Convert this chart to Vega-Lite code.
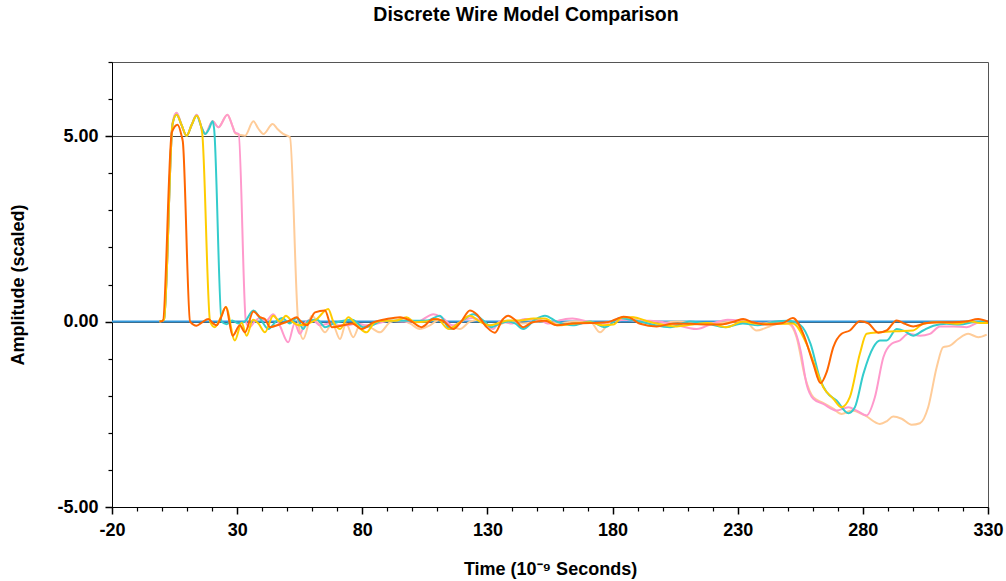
{
"$schema":"https://vega.github.io/schema/vega-lite/v6.json",
"width":876,"height":445,"autosize":"none",
"padding":{"left":112,"top":62,"right":18,"bottom":74},
"background":"white",
"title":{"text":"Discrete Wire Model Comparison","font":"Liberation Sans","fontSize":19.5,"fontWeight":"bold","color":"black","anchor":"middle","dx":-24,"offset":36},
"config":{"view":{"stroke":"#555","strokeWidth":1},"font":"Liberation Sans","axis":{"ticks":true,"tickColor":"black","tickOpacity":1}},
"data":{"values":[
{"s":"s0","x":-20,"y":0},{"s":"s0","x":330,"y":0},
{"s":"s1","x":-1,"y":0},{"s":"s1","x":0.8,"y":0.05},{"s":"s1","x":4.2,"y":5.35},{"s":"s1","x":5.8,"y":5.63},{"s":"s1","x":7.8,"y":5.3},{"s":"s1","x":9.8,"y":5.01},{"s":"s1","x":11.8,"y":5.3},{"s":"s1","x":13.8,"y":5.58},{"s":"s1","x":16,"y":5.2},{"s":"s1","x":17.2,"y":5.06},{"s":"s1","x":20.2,"y":5.4},{"s":"s1","x":22.5,"y":5.24},{"s":"s1","x":26.1,"y":5.58},{"s":"s1","x":28,"y":5.3},{"s":"s1","x":29.5,"y":5.06},{"s":"s1","x":31.5,"y":5.03},{"s":"s1","x":33.1,"y":5.01},{"s":"s1","x":36.5,"y":5.4},{"s":"s1","x":38.5,"y":5.2},{"s":"s1","x":40.5,"y":5.06},{"s":"s1","x":44.2,"y":5.33},{"s":"s1","x":46,"y":5.2},{"s":"s1","x":48.4,"y":5.06},{"s":"s1","x":51.1,"y":4.97},{"s":"s1","x":54.4,"y":0},{"s":"s1","x":56.4,"y":-0.47},{"s":"s1","x":59.8,"y":0.16},{"s":"s1","x":62.5,"y":-0.05},{"s":"s1","x":65.1,"y":-0.29},{"s":"s1","x":68,"y":-0.05},{"s":"s1","x":71.1,"y":-0.47},{"s":"s1","x":73.5,"y":-0.05},{"s":"s1","x":76.4,"y":-0.42},{"s":"s1","x":79,"y":-0.1},{"s":"s1","x":83,"y":-0.15},{"s":"s1","x":87.1,"y":-0.29},{"s":"s1","x":91,"y":-0.02},{"s":"s1","x":95,"y":0.05},{"s":"s1","x":99,"y":-0.05},{"s":"s1","x":103,"y":-0.2},{"s":"s1","x":107,"y":-0.1},{"s":"s1","x":111,"y":0.05},{"s":"s1","x":115,"y":-0.1},{"s":"s1","x":119,"y":-0.2},{"s":"s1","x":123,"y":0},{"s":"s1","x":127,"y":0.05},{"s":"s1","x":131,"y":-0.1},{"s":"s1","x":134,"y":-0.1},{"s":"s1","x":138,"y":0},{"s":"s1","x":144,"y":-0.05},{"s":"s1","x":151,"y":0},{"s":"s1","x":158,"y":-0.05},{"s":"s1","x":165,"y":0},{"s":"s1","x":171,"y":0},{"s":"s1","x":175,"y":-0.29},{"s":"s1","x":179,"y":0},{"s":"s1","x":184,"y":0.1},{"s":"s1","x":188,"y":0.12},{"s":"s1","x":191,"y":0},{"s":"s1","x":198,"y":-0.05},{"s":"s1","x":206,"y":0},{"s":"s1","x":215,"y":-0.05},{"s":"s1","x":222,"y":-0.03},{"s":"s1","x":229,"y":0},{"s":"s1","x":233,"y":0},{"s":"s1","x":237.5,"y":-0.24},{"s":"s1","x":242,"y":-0.15},{"s":"s1","x":246,"y":-0.05},{"s":"s1","x":250.2,"y":-0.06},{"s":"s1","x":253.5,"y":-0.42},{"s":"s1","x":256.9,"y":-1.5},{"s":"s1","x":260.2,"y":-2.04},{"s":"s1","x":263.5,"y":-2.17},{"s":"s1","x":268.2,"y":-2.35},{"s":"s1","x":271.5,"y":-2.49},{"s":"s1","x":275.5,"y":-2.4},{"s":"s1","x":280.8,"y":-2.53},{"s":"s1","x":286.8,"y":-2.76},{"s":"s1","x":289.5,"y":-2.69},{"s":"s1","x":292.1,"y":-2.56},{"s":"s1","x":295.5,"y":-2.62},{"s":"s1","x":299.5,"y":-2.78},{"s":"s1","x":302.8,"y":-2.74},{"s":"s1","x":306.1,"y":-2.31},{"s":"s1","x":309.5,"y":-1.23},{"s":"s1","x":312.1,"y":-0.69},{"s":"s1","x":314.8,"y":-0.65},{"s":"s1","x":318.1,"y":-0.47},{"s":"s1","x":322.1,"y":-0.33},{"s":"s1","x":326.1,"y":-0.42},{"s":"s1","x":329.5,"y":-0.35},
{"s":"s2","x":-1,"y":0},{"s":"s2","x":0.8,"y":0.05},{"s":"s2","x":4.2,"y":5.35},{"s":"s2","x":5.8,"y":5.63},{"s":"s2","x":7.8,"y":5.3},{"s":"s2","x":9.8,"y":5.01},{"s":"s2","x":11.8,"y":5.3},{"s":"s2","x":13.8,"y":5.58},{"s":"s2","x":16,"y":5.2},{"s":"s2","x":17.2,"y":5.06},{"s":"s2","x":20.2,"y":5.4},{"s":"s2","x":22.5,"y":5.24},{"s":"s2","x":26.1,"y":5.58},{"s":"s2","x":28,"y":5.3},{"s":"s2","x":29.1,"y":5.1},{"s":"s2","x":30.6,"y":5.06},{"s":"s2","x":33.5,"y":0},{"s":"s2","x":35,"y":-0.15},{"s":"s2","x":37,"y":0},{"s":"s2","x":39,"y":0.1},{"s":"s2","x":41.5,"y":0.02},{"s":"s2","x":44.4,"y":0.2},{"s":"s2","x":47,"y":-0.1},{"s":"s2","x":50.4,"y":-0.56},{"s":"s2","x":53,"y":-0.05},{"s":"s2","x":55.1,"y":-0.33},{"s":"s2","x":57.5,"y":0},{"s":"s2","x":60,"y":0.05},{"s":"s2","x":63.1,"y":-0.1},{"s":"s2","x":67,"y":-0.05},{"s":"s2","x":70,"y":-0.1},{"s":"s2","x":74,"y":-0.1},{"s":"s2","x":78,"y":-0.05},{"s":"s2","x":81.7,"y":-0.1},{"s":"s2","x":86,"y":-0.05},{"s":"s2","x":91,"y":0.02},{"s":"s2","x":97,"y":0},{"s":"s2","x":102,"y":0},{"s":"s2","x":108.4,"y":0.2},{"s":"s2","x":112,"y":0.1},{"s":"s2","x":116,"y":-0.1},{"s":"s2","x":121,"y":0.05},{"s":"s2","x":124,"y":0.1},{"s":"s2","x":128,"y":0},{"s":"s2","x":132.3,"y":-0.2},{"s":"s2","x":135,"y":0},{"s":"s2","x":140,"y":-0.05},{"s":"s2","x":145,"y":0.07},{"s":"s2","x":151,"y":0.05},{"s":"s2","x":154,"y":-0.05},{"s":"s2","x":160,"y":0.05},{"s":"s2","x":164,"y":0.08},{"s":"s2","x":170,"y":0},{"s":"s2","x":175,"y":-0.05},{"s":"s2","x":180,"y":0},{"s":"s2","x":185,"y":0.05},{"s":"s2","x":190,"y":0.02},{"s":"s2","x":195,"y":0.02},{"s":"s2","x":203,"y":-0.05},{"s":"s2","x":213.6,"y":-0.2},{"s":"s2","x":220,"y":-0.05},{"s":"s2","x":226,"y":0.05},{"s":"s2","x":233,"y":0},{"s":"s2","x":240,"y":-0.05},{"s":"s2","x":245,"y":0},{"s":"s2","x":250.9,"y":-0.06},{"s":"s2","x":255.1,"y":-0.78},{"s":"s2","x":257.5,"y":-1.68},{"s":"s2","x":260.2,"y":-2.08},{"s":"s2","x":264.2,"y":-2.22},{"s":"s2","x":269.5,"y":-2.4},{"s":"s2","x":274.2,"y":-2.31},{"s":"s2","x":277.5,"y":-2.4},{"s":"s2","x":281.5,"y":-2.53},{"s":"s2","x":284.8,"y":-2.04},{"s":"s2","x":288.2,"y":-0.96},{"s":"s2","x":291.5,"y":-0.6},{"s":"s2","x":294.8,"y":-0.51},{"s":"s2","x":298.2,"y":-0.33},{"s":"s2","x":302.8,"y":-0.38},{"s":"s2","x":306.8,"y":-0.33},{"s":"s2","x":310.8,"y":-0.13},{"s":"s2","x":316.1,"y":-0.13},{"s":"s2","x":321.5,"y":-0.15},{"s":"s2","x":326.8,"y":-0.02},{"s":"s2","x":330,"y":-0.02},
{"s":"s3","x":-1,"y":0},{"s":"s3","x":0.8,"y":0.05},{"s":"s3","x":4.2,"y":5.33},{"s":"s3","x":5.8,"y":5.58},{"s":"s3","x":7.8,"y":5.3},{"s":"s3","x":9.8,"y":5.01},{"s":"s3","x":11.8,"y":5.3},{"s":"s3","x":13.8,"y":5.55},{"s":"s3","x":16,"y":5.2},{"s":"s3","x":17.2,"y":5.06},{"s":"s3","x":18.8,"y":5.2},{"s":"s3","x":20.2,"y":5.4},{"s":"s3","x":20.8,"y":5.2},{"s":"s3","x":23.8,"y":0},{"s":"s3","x":25.8,"y":-0.07},{"s":"s3","x":28,"y":0.03},{"s":"s3","x":30.5,"y":-0.05},{"s":"s3","x":33,"y":0},{"s":"s3","x":36.5,"y":0.3},{"s":"s3","x":39.5,"y":0.05},{"s":"s3","x":42.5,"y":-0.2},{"s":"s3","x":45.5,"y":0},{"s":"s3","x":48,"y":0.1},{"s":"s3","x":51,"y":-0.05},{"s":"s3","x":53.8,"y":0.1},{"s":"s3","x":56.4,"y":-0.2},{"s":"s3","x":58.4,"y":0.02},{"s":"s3","x":62,"y":0.05},{"s":"s3","x":65.1,"y":-0.15},{"s":"s3","x":68.5,"y":-0.05},{"s":"s3","x":72.4,"y":0.02},{"s":"s3","x":76,"y":0.05},{"s":"s3","x":80.4,"y":-0.15},{"s":"s3","x":84,"y":-0.1},{"s":"s3","x":88,"y":0.02},{"s":"s3","x":95,"y":0.02},{"s":"s3","x":101,"y":0.02},{"s":"s3","x":106,"y":0.03},{"s":"s3","x":111,"y":0.16},{"s":"s3","x":115,"y":-0.2},{"s":"s3","x":119.5,"y":0},{"s":"s3","x":124.4,"y":0.2},{"s":"s3","x":128,"y":0.05},{"s":"s3","x":131.7,"y":-0.15},{"s":"s3","x":135,"y":-0.05},{"s":"s3","x":138.5,"y":0},{"s":"s3","x":141,"y":-0.05},{"s":"s3","x":144.3,"y":-0.2},{"s":"s3","x":149,"y":0.05},{"s":"s3","x":153,"y":0.16},{"s":"s3","x":157.7,"y":0},{"s":"s3","x":164,"y":-0.1},{"s":"s3","x":171,"y":0},{"s":"s3","x":177,"y":-0.15},{"s":"s3","x":183,"y":0.1},{"s":"s3","x":187,"y":0.05},{"s":"s3","x":191,"y":0},{"s":"s3","x":197,"y":-0.1},{"s":"s3","x":203,"y":-0.15},{"s":"s3","x":211,"y":0},{"s":"s3","x":218,"y":-0.06},{"s":"s3","x":225,"y":-0.15},{"s":"s3","x":232,"y":-0.05},{"s":"s3","x":238,"y":-0.1},{"s":"s3","x":245,"y":0},{"s":"s3","x":250,"y":0.02},{"s":"s3","x":255.1,"y":-0.1},{"s":"s3","x":259.1,"y":-0.6},{"s":"s3","x":263.1,"y":-1.59},{"s":"s3","x":265.5,"y":-1.9},{"s":"s3","x":269.5,"y":-2.13},{"s":"s3","x":274.2,"y":-2.47},{"s":"s3","x":276.8,"y":-2.31},{"s":"s3","x":280.2,"y":-1.41},{"s":"s3","x":284.2,"y":-0.69},{"s":"s3","x":286.8,"y":-0.51},{"s":"s3","x":289.5,"y":-0.51},{"s":"s3","x":293.5,"y":-0.2},{"s":"s3","x":296.5,"y":-0.25},{"s":"s3","x":300.1,"y":-0.38},{"s":"s3","x":304.1,"y":-0.24},{"s":"s3","x":308.2,"y":-0.11},{"s":"s3","x":313.5,"y":-0.06},{"s":"s3","x":318.8,"y":-0.08},{"s":"s3","x":324.2,"y":-0.02},{"s":"s3","x":330,"y":0},
{"s":"s4","x":-1,"y":0},{"s":"s4","x":0.8,"y":0.05},{"s":"s4","x":4.2,"y":5.33},{"s":"s4","x":5.8,"y":5.58},{"s":"s4","x":7.8,"y":5.3},{"s":"s4","x":9.8,"y":5.01},{"s":"s4","x":11.8,"y":5.3},{"s":"s4","x":13.8,"y":5.55},{"s":"s4","x":16,"y":5.1},{"s":"s4","x":19.2,"y":0},{"s":"s4","x":21.1,"y":-0.15},{"s":"s4","x":23,"y":0.05},{"s":"s4","x":25.5,"y":0.39},{"s":"s4","x":29.1,"y":-0.51},{"s":"s4","x":31.8,"y":-0.03},{"s":"s4","x":33.8,"y":-0.38},{"s":"s4","x":36.3,"y":0.05},{"s":"s4","x":38.5,"y":-0.05},{"s":"s4","x":41.1,"y":-0.29},{"s":"s4","x":44.4,"y":0.16},{"s":"s4","x":47.1,"y":0},{"s":"s4","x":49.5,"y":0.16},{"s":"s4","x":52,"y":0},{"s":"s4","x":55.1,"y":-0.1},{"s":"s4","x":58.4,"y":-0.05},{"s":"s4","x":61.5,"y":0.05},{"s":"s4","x":66.4,"y":0.34},{"s":"s4","x":68.4,"y":0},{"s":"s4","x":71.1,"y":-0.2},{"s":"s4","x":74.4,"y":0.12},{"s":"s4","x":77.8,"y":-0.1},{"s":"s4","x":81.7,"y":-0.29},{"s":"s4","x":85,"y":-0.02},{"s":"s4","x":89,"y":0.02},{"s":"s4","x":93,"y":0.02},{"s":"s4","x":97.7,"y":0.12},{"s":"s4","x":101,"y":-0.02},{"s":"s4","x":105.7,"y":0},{"s":"s4","x":110,"y":0.07},{"s":"s4","x":114.4,"y":-0.2},{"s":"s4","x":119,"y":-0.02},{"s":"s4","x":123,"y":0.16},{"s":"s4","x":127,"y":0},{"s":"s4","x":131,"y":-0.1},{"s":"s4","x":134,"y":-0.05},{"s":"s4","x":138,"y":0.03},{"s":"s4","x":143,"y":0.03},{"s":"s4","x":148.3,"y":0.08},{"s":"s4","x":153,"y":0.08},{"s":"s4","x":158,"y":-0.1},{"s":"s4","x":164,"y":-0.06},{"s":"s4","x":171,"y":-0.02},{"s":"s4","x":176,"y":-0.1},{"s":"s4","x":180.3,"y":-0.08},{"s":"s4","x":184,"y":0.12},{"s":"s4","x":188.3,"y":0.12},{"s":"s4","x":193,"y":0.03},{"s":"s4","x":198,"y":-0.06},{"s":"s4","x":205.6,"y":-0.13},{"s":"s4","x":212,"y":-0.08},{"s":"s4","x":218,"y":-0.04},{"s":"s4","x":225.5,"y":-0.15},{"s":"s4","x":232,"y":0},{"s":"s4","x":238,"y":-0.06},{"s":"s4","x":244,"y":-0.06},{"s":"s4","x":248,"y":-0.06},{"s":"s4","x":252,"y":-0.05},{"s":"s4","x":257.5,"y":-0.6},{"s":"s4","x":261.5,"y":-1.32},{"s":"s4","x":264.2,"y":-1.77},{"s":"s4","x":268.2,"y":-2.08},{"s":"s4","x":271.5,"y":-2.31},{"s":"s4","x":274.8,"y":-2.04},{"s":"s4","x":278.8,"y":-0.87},{"s":"s4","x":281.5,"y":-0.33},{"s":"s4","x":286.8,"y":-0.29},{"s":"s4","x":293.5,"y":-0.26},{"s":"s4","x":300.1,"y":-0.24},{"s":"s4","x":304.1,"y":-0.06},{"s":"s4","x":310.8,"y":-0.02},{"s":"s4","x":317.5,"y":-0.06},{"s":"s4","x":322.8,"y":0.01},{"s":"s4","x":326.8,"y":-0.04},{"s":"s4","x":330,"y":-0.04},
{"s":"s5","x":-1,"y":0},{"s":"s5","x":0.3,"y":0.02},{"s":"s5","x":3.9,"y":5.1},{"s":"s5","x":6.2,"y":5.31},{"s":"s5","x":7.8,"y":5.01},{"s":"s5","x":8.3,"y":4.85},{"s":"s5","x":11.2,"y":0},{"s":"s5","x":13.8,"y":-0.11},{"s":"s5","x":16,"y":-0.02},{"s":"s5","x":18.5,"y":0.07},{"s":"s5","x":20.4,"y":-0.05},{"s":"s5","x":21.8,"y":-0.1},{"s":"s5","x":23.5,"y":0.1},{"s":"s5","x":25.5,"y":0.39},{"s":"s5","x":28.2,"y":-0.38},{"s":"s5","x":31.1,"y":-0.1},{"s":"s5","x":33.1,"y":-0.29},{"s":"s5","x":36.5,"y":0.27},{"s":"s5","x":39.1,"y":0.12},{"s":"s5","x":41.1,"y":0.07},{"s":"s5","x":43.1,"y":-0.15},{"s":"s5","x":47.1,"y":-0.07},{"s":"s5","x":51.1,"y":0.03},{"s":"s5","x":53.8,"y":0.12},{"s":"s5","x":55.1,"y":0.03},{"s":"s5","x":57.8,"y":-0.1},{"s":"s5","x":61.1,"y":0.25},{"s":"s5","x":65.1,"y":0.3},{"s":"s5","x":67.8,"y":-0.15},{"s":"s5","x":72.4,"y":-0.1},{"s":"s5","x":76,"y":-0.05},{"s":"s5","x":79.8,"y":-0.2},{"s":"s5","x":84.4,"y":-0.02},{"s":"s5","x":89.7,"y":0.07},{"s":"s5","x":95.1,"y":0.12},{"s":"s5","x":99.1,"y":0.03},{"s":"s5","x":103.7,"y":-0.15},{"s":"s5","x":108.4,"y":0.07},{"s":"s5","x":112,"y":0.03},{"s":"s5","x":116.4,"y":-0.2},{"s":"s5","x":119.5,"y":0},{"s":"s5","x":123,"y":0.3},{"s":"s5","x":125.7,"y":0.2},{"s":"s5","x":129.7,"y":-0.15},{"s":"s5","x":133,"y":-0.3},{"s":"s5","x":136,"y":0.05},{"s":"s5","x":138.3,"y":0.16},{"s":"s5","x":141,"y":0.05},{"s":"s5","x":144.3,"y":-0.15},{"s":"s5","x":148,"y":-0.02},{"s":"s5","x":153,"y":0.02},{"s":"s5","x":157.7,"y":-0.1},{"s":"s5","x":164,"y":-0.05},{"s":"s5","x":171,"y":-0.04},{"s":"s5","x":177.5,"y":-0.02},{"s":"s5","x":181,"y":0.05},{"s":"s5","x":184.3,"y":0.13},{"s":"s5","x":187,"y":0.1},{"s":"s5","x":191,"y":-0.06},{"s":"s5","x":197.6,"y":-0.13},{"s":"s5","x":204,"y":-0.06},{"s":"s5","x":211,"y":-0.06},{"s":"s5","x":218,"y":-0.08},{"s":"s5","x":224,"y":-0.07},{"s":"s5","x":229,"y":0.01},{"s":"s5","x":232.2,"y":0.07},{"s":"s5","x":236,"y":-0.02},{"s":"s5","x":242,"y":-0.08},{"s":"s5","x":248,"y":-0.04},{"s":"s5","x":252,"y":0.1},{"s":"s5","x":256.2,"y":-0.33},{"s":"s5","x":260.2,"y":-1.14},{"s":"s5","x":263.1,"y":-1.66},{"s":"s5","x":265.5,"y":-1.37},{"s":"s5","x":268.2,"y":-0.69},{"s":"s5","x":271.5,"y":-0.33},{"s":"s5","x":274.8,"y":-0.24},{"s":"s5","x":278.8,"y":0.01},{"s":"s5","x":282.2,"y":-0.05},{"s":"s5","x":286.2,"y":-0.3},{"s":"s5","x":289.5,"y":-0.24},{"s":"s5","x":293.5,"y":0.03},{"s":"s5","x":296.8,"y":-0.06},{"s":"s5","x":300.1,"y":-0.13},{"s":"s5","x":305.5,"y":-0.04},{"s":"s5","x":310.8,"y":-0.02},{"s":"s5","x":316,"y":-0.02},{"s":"s5","x":321,"y":0},{"s":"s5","x":326.1,"y":0.07},{"s":"s5","x":330,"y":0}
]},
"layer":[
{"mark":{"type":"line","interpolate":"monotone","strokeWidth":2,"clip":true},
 "encoding":{
  "x":{"field":"x","type":"quantitative","scale":{"domain":[-20,330],"nice":false,"zero":false},
       "axis":{"orient":"bottom","values":[-20,30,80,130,180,230,280,330],"format":"d","labelExpr":"replace(datum.label, '\u2212', '-')","grid":false,"domain":true,"domainColor":"black","domainWidth":1,"ticks":true,"tickColor":"black","tickWidth":1.5,"tickOpacity":1,"tickSize":7,"labelFont":"Liberation Sans","labelFontSize":18,"labelFontWeight":"bold","labelColor":"black","labelPadding":7,"labelFlush":false,"title":"Time (10\u207b\u2079 Seconds)","titleFont":"Liberation Sans","titleFontSize":18,"titleFontWeight":"bold","titleColor":"black","titlePadding":21}},
  "y":{"field":"y","type":"quantitative","scale":{"domain":[-5,7],"nice":false,"zero":false},
       "axis":{"orient":"left","values":[-5,0,5],"format":".2f","labelExpr":"replace(datum.label, '\u2212', '-')","grid":true,"gridColor":"#444","gridWidth":1.2,"gridOpacity":1,"domain":true,"domainColor":"black","domainWidth":1,"ticks":true,"tickColor":"black","tickWidth":1.5,"tickOpacity":1,"tickSize":7,"labelFont":"Liberation Sans","labelFontSize":18,"labelFontWeight":"bold","labelColor":"black","labelPadding":7,"labelFlush":false,"title":"Amplitude (scaled)","titleFont":"Liberation Sans","titleFontSize":18,"titleFontWeight":"bold","titleColor":"black","titlePadding":29}},
  "color":{"field":"s","type":"nominal","scale":{"domain":["s0","s1","s2","s3","s4","s5"],"range":["#3399DD","#FFCC99","#FF99CC","#33CCCC","#FFCC00","#FF6600"]},"legend":null}
 }},
{"mark":{"type":"point","opacity":0},
 "encoding":{
  "x":{"field":"x","type":"quantitative","scale":{"domain":[-20,330],"nice":false,"zero":false},
       "axis":{"orient":"bottom","values":[-10,0,10,20,40,50,60,70,90,100,110,120,140,150,160,170,190,200,210,220,240,250,260,270,290,300,310,320],"labels":false,"domain":false,"grid":false,"ticks":true,"tickColor":"black","tickWidth":1.2,"tickOpacity":1,"tickSize":4,"title":null}},
  "y":{"field":"y","type":"quantitative","scale":{"domain":[-5,7],"nice":false,"zero":false},
       "axis":{"orient":"left","values":[-4,-3,-2,-1,1,2,3,4,6,7],"labels":false,"domain":false,"grid":false,"ticks":true,"tickColor":"black","tickWidth":1.2,"tickOpacity":1,"tickSize":4,"title":null}}
 }}
],
"resolve":{"axis":{"x":"independent","y":"independent"}}
}
